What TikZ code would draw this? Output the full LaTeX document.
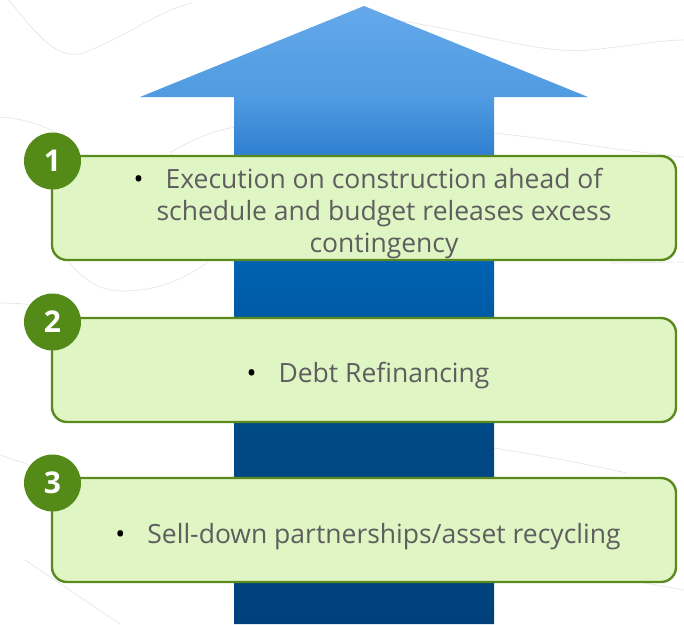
\documentclass[tikz,border=0pt]{standalone}
\usepackage{fontspec}
\setmainfont{Open Sans}
\definecolor{boxfill}{HTML}{DFF5C4}
\definecolor{boxline}{HTML}{5A8A1E}
\definecolor{numfill}{HTML}{548A18}
\definecolor{txt}{HTML}{5E5E5E}
\definecolor{bgline}{HTML}{E6E6E6}
\definecolor{arA}{RGB}{0,65,125}
\definecolor{arB}{RGB}{0,72,132}
\definecolor{arC}{RGB}{0,90,165}
\definecolor{arD}{RGB}{0,98,178}
\definecolor{arE}{RGB}{50,130,210}
\definecolor{arF}{RGB}{80,155,225}
\definecolor{arG}{RGB}{100,168,234}
\pgfdeclareverticalshading{arrowshade}{100bp}{%
  color(0bp)=(arA); color(25bp)=(arA); color(40bp)=(arB); color(49.75bp)=(arC);
  color(54.45bp)=(arD); color(63.35bp)=(arE); color(67.65bp)=(arF);
  color(75bp)=(arG); color(100bp)=(arG)}
\tikzset{
  stepbox/.style={draw=boxline, line width=2.4pt, fill=boxfill, rounded corners=15pt,
    minimum width=624pt, minimum height=104pt, inner sep=0pt},
  numdot/.style={circle, fill=numfill, minimum size=57pt, inner sep=0pt,
    text=white, font=\fontsize{30}{30}\selectfont\bfseries},
  steptext/.style={text=txt, align=center, font=\fontsize{26.5}{32}\selectfont, inner sep=0pt},
  bg/.style={draw=bgline, line width=0.7pt}
}
\newcommand{\bul}{\makebox[0pt][r]{\textcolor{black}{\textbullet}\hspace{22pt}}}
\begin{document}
\begin{tikzpicture}[x=1pt,y=-1pt]
\useasboundingbox (0,0) rectangle (684,624);
% faint background lines
\draw[bg] (9,0) .. controls (40,40) and (60,60) .. (83,53) .. controls (120,40) and (160,10) .. (192,3);
\draw[bg] (393,20) .. controls (470,30) and (540,55) .. (590,50) .. controls (630,46) and (660,40) .. (684,40);
\draw[bg] (0,117) .. controls (20,118) and (40,124) .. (57,133);
\draw[bg] (170,153) .. controls (190,140) and (215,130) .. (236,127);
\draw[bg] (494,133) .. controls (560,140) and (630,152) .. (684,157);
\draw[bg] (67,260) .. controls (80,275) and (95,290) .. (120,291) .. controls (160,292) and (190,275) .. (208,262);
\draw[bg] (0,303) .. controls (20,303) and (40,305) .. (52,310);
\draw[bg] (610,263) -- (684,262);
\draw[bg] (493,448) .. controls (540,455) and (590,465) .. (627,473);
\draw[bg] (0,455) -- (30,465);
\draw[bg] (25,560) -- (120,624);
\draw[bg] (645,583) -- (684,590);
% arrow
\shade[shading=arrowshade] (140,97) -- (364,6) -- (588,97) -- (494,97) -- (494,624) -- (234,624) -- (234,97) -- cycle;
% boxes
\node[stepbox] (b1) at (364,208) {};
\node[stepbox] (b2) at (364,370) {};
\node[stepbox] (b3) at (364,530) {};
\node[numdot] (n1) at (52.5,161) {1};
\node[numdot] (n2) at (52.5,322) {2};
\node[numdot] (n3) at (52.5,483) {3};
\node[steptext] (t1) at (384,214) {\bul Execution on construction ahead of\\schedule and budget releases excess\\contingency};
\node[steptext] (t2) at (384,376) {\bul Debt Refinancing};
\node[steptext] (t3) at (384,536.5) {\bul Sell-down partnerships/asset recycling};
\end{tikzpicture}
\end{document}
